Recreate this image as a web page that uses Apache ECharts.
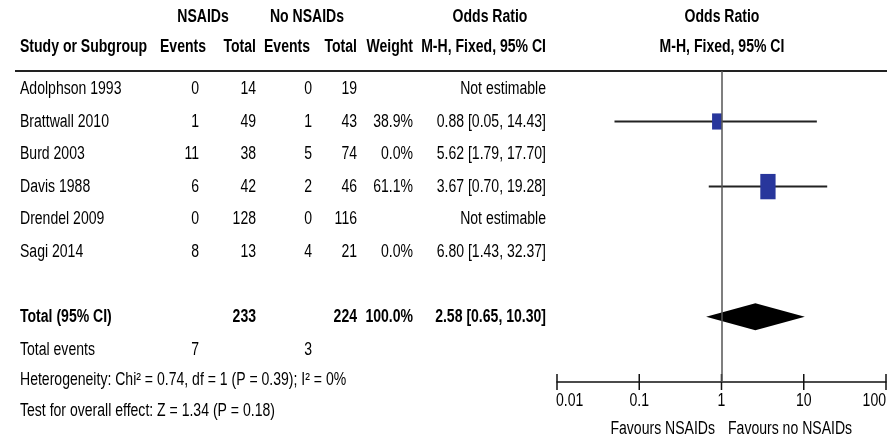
<!DOCTYPE html>
<html>
<head>
<meta charset="utf-8">
<script src="https://cdn.jsdelivr.net/npm/echarts@6/dist/echarts.min.js"></script>
<style>
html,body{margin:0;padding:0;background:#fff;}
#chart{width:887px;height:440px;}
</style>
</head>
<body>
<div id="chart"></div>
<script>
// ---------- DATA ----------
const studies = ['Adolphson 1993', 'Brattwall 2010', 'Burd 2003', 'Davis 1988', 'Drendel 2009', 'Sagi 2014'];
const nsaidEvents = [0, 1, 11, 6, 0, 8];
const nsaidTotal = [14, 49, 38, 42, 128, 13];
const noNsaidEvents = [0, 1, 5, 2, 0, 4];
const noNsaidTotal = [19, 43, 74, 46, 116, 21];
const weights = [null, 38.9, 0.0, 61.1, null, 0.0];
const oddsRatios = [null, 0.88, 5.62, 3.67, null, 6.80];
const ciLow = [null, 0.05, 1.79, 0.70, null, 1.43];
const ciHigh = [null, 14.43, 17.70, 19.28, null, 32.37];
const totalLabel = 'Total (95% CI)';
const totalNsaid = 233;
const totalNoNsaid = 224;
const totalWeight = 100.0;
const pooledOR = 2.58;
const pooledLow = 0.65;
const pooledHigh = 10.30;
const totalEventsNsaid = 7;
const totalEventsNoNsaid = 3;
const heterogeneityText = 'Heterogeneity: Chi\u00B2 = 0.74, df = 1 (P = 0.39); I\u00B2 = 0%';
const overallEffectText = 'Test for overall effect: Z = 1.34 (P = 0.18)';
const axisTickValues = [0.01, 0.1, 1, 10, 100];
const axisTickLabels = ['0.01', '0.1', '1', '10', '100'];
const favoursLeft = 'Favours NSAIDs';
const favoursRight = 'Favours no NSAIDs';

// ---------- LAYOUT / STYLE ----------
const FONT = '"Liberation Sans", Arial, sans-serif';
const FS = 18;
const SX = 0.78;           // horizontal condensing of text
const TXT = '#000';
const col = { study: 20, ev1: 199, tot1: 256, ev2: 312, tot2: 357, weight: 413, or: 546 };
const hdr = { ev1: 206, tot1: 256, ev2: 310, tot2: 357, weight: 413, or: 546 };
const rowPos = { head1: -2.2, head2: -1.3, total: 7, events: 8, het: 8.95, test: 9.88, favours: 10.44 };
const axisRow = 9;

const fmt2 = v => v.toFixed(2);
const orText = i => oddsRatios[i] == null ? 'Not estimable'
  : fmt2(oddsRatios[i]) + ' [' + fmt2(ciLow[i]) + ', ' + fmt2(ciHigh[i]) + ']';

const textItems = [];
function addText(x, row, text, align, bold) {
  textItems.push({ x: x, row: row, text: String(text), align: align, bold: !!bold });
}

studies.forEach((s, i) => {
  addText(col.study, i, s, 'left');
  addText(col.ev1, i, nsaidEvents[i], 'right');
  addText(col.tot1, i, nsaidTotal[i], 'right');
  addText(col.ev2, i, noNsaidEvents[i], 'right');
  addText(col.tot2, i, noNsaidTotal[i], 'right');
  if (weights[i] != null) addText(col.weight, i, weights[i].toFixed(1) + '%', 'right');
  addText(col.or, i, orText(i), 'right');
});
addText(col.study, rowPos.events, 'Total events', 'left');
addText(col.ev1, rowPos.events, totalEventsNsaid, 'right');
addText(col.ev2, rowPos.events, totalEventsNoNsaid, 'right');
addText(col.study, rowPos.het, heterogeneityText, 'left');
addText(col.study, rowPos.test, overallEffectText, 'left');
addText(715, rowPos.favours, favoursLeft, 'right');
addText(728, rowPos.favours, favoursRight, 'left');

addText(203, rowPos.head1, 'NSAIDs', 'center', true);
addText(307, rowPos.head1, 'No NSAIDs', 'center', true);
addText(490, rowPos.head1, 'Odds Ratio', 'center', true);
addText(722, rowPos.head1, 'Odds Ratio', 'center', true);
addText(col.study, rowPos.head2, 'Study or Subgroup', 'left', true);
addText(hdr.ev1, rowPos.head2, 'Events', 'right', true);
addText(hdr.tot1, rowPos.head2, 'Total', 'right', true);
addText(hdr.ev2, rowPos.head2, 'Events', 'right', true);
addText(hdr.tot2, rowPos.head2, 'Total', 'right', true);
addText(hdr.weight, rowPos.head2, 'Weight', 'right', true);
addText(hdr.or, rowPos.head2, 'M-H, Fixed, 95% CI', 'right', true);
addText(722, rowPos.head2, 'M-H, Fixed, 95% CI', 'center', true);
addText(col.study, rowPos.total, totalLabel, 'left', true);
addText(col.tot1, rowPos.total, totalNsaid, 'right', true);
addText(col.tot2, rowPos.total, totalNoNsaid, 'right', true);
addText(col.weight, rowPos.total, totalWeight.toFixed(1) + '%', 'right', true);
addText(col.or, rowPos.total, fmt2(pooledOR) + ' [' + fmt2(pooledLow) + ', ' + fmt2(pooledHigh) + ']', 'right', true);

function textEl(p, text, align, bold) {
  return {
    type: 'text', x: p[0], y: p[1], scaleX: SX,
    style: { text: text, x: 0, y: 0, align: align, verticalAlign: 'middle',
      font: (bold ? 'bold ' : '') + FS + 'px ' + FONT, fill: TXT }
  };
}

// studies with a positive weight are plotted
const studyData = [];
studies.forEach((s, i) => {
  if (oddsRatios[i] != null && weights[i] > 0) studyData.push([i, ciLow[i], ciHigh[i], oddsRatios[i], weights[i]]);
});

const chart = echarts.init(document.getElementById('chart'), null, { renderer: 'canvas' });

chart.setOption({
  animation: false,
  backgroundColor: '#fff',
  grid: [
    { left: 0, right: 0, top: 0, bottom: 0 },
    { left: 557, right: 1, top: 71, bottom: 58 }
  ],
  xAxis: [
    { gridIndex: 0, type: 'value', min: 0, max: 887, show: false },
    { gridIndex: 1, type: 'log', logBase: 10, min: axisTickValues[0], max: axisTickValues[axisTickValues.length - 1],
      position: 'bottom',
      axisLine: { show: true, onZero: false, lineStyle: { color: '#111', width: 1.5 } },
      axisTick: { show: false }, axisLabel: { show: false },
      splitLine: { show: false }, minorTick: { show: false } }
  ],
  yAxis: [
    { gridIndex: 0, type: 'value', inverse: true, min: -2.733, max: 10.777, show: false },
    { gridIndex: 1, type: 'value', inverse: true, min: -0.55, max: axisRow, show: false }
  ],
  series: [
    {
      // table text
      type: 'custom', xAxisIndex: 0, yAxisIndex: 0, silent: true,
      data: textItems.map(t => [t.x, t.row]),
      renderItem: function (params, api) {
        const t = textItems[params.dataIndex];
        const p = api.coord([api.value(0), api.value(1)]);
        return textEl(p, t.text, t.align, t.bold);
      },
      markLine: {
        silent: true, symbol: 'none', animation: false,
        label: { show: false },
        lineStyle: { color: '#222', width: 2, type: 'solid' },
        data: [[{ coord: [15, -0.55] }, { coord: [887, -0.55] }]]
      },
      z: 5
    },
    {
      // axis ticks and tick labels
      type: 'custom', xAxisIndex: 1, yAxisIndex: 1, silent: true,
      data: axisTickValues.map(v => [v, axisRow]),
      encode: { x: 0, y: 1 },
      clip: false,
      renderItem: function (params, api) {
        const p = api.coord([api.value(0), api.value(1)]);
        const i = params.dataIndex;
        const align = i === 0 ? 'left' : (i === axisTickValues.length - 1 ? 'right' : 'center');
        return {
          type: 'group', children: [
            { type: 'line', shape: { x1: p[0], y1: p[1] - 8, x2: p[0], y2: p[1] + 8 },
              style: { stroke: '#111', lineWidth: 1.5 } },
            textEl([p[0] - (i === 0 ? 1 : 0), p[1] + 19], axisTickLabels[i], align, false)
          ]
        };
      },
      z: 4
    },
    {
      type: 'custom', xAxisIndex: 1, yAxisIndex: 1, silent: true,
      data: studyData,
      encode: { x: [1, 2, 3], y: 0 },
      renderItem: function (params, api) {
        const row = api.value(0);
        const p1 = api.coord([api.value(1), row]);
        const p2 = api.coord([api.value(2), row]);
        const pc = api.coord([api.value(3), row]);
        const w = api.value(4);
        const bw = w * 0.25, bh = w * 0.415;
        return { type: 'group', children: [
          { type: 'line', shape: { x1: p1[0], y1: p1[1], x2: p2[0], y2: p2[1] },
            style: { stroke: '#222', lineWidth: 2 } },
          { type: 'rect', shape: { x: pc[0] - bw / 2, y: pc[1] - bh / 2, width: bw, height: bh },
            style: { fill: '#28369c' } }
        ] };
      },
      z: 4
    },
    {
      type: 'custom', xAxisIndex: 1, yAxisIndex: 1, silent: true,
      data: [[rowPos.total, pooledLow, pooledHigh, pooledOR]],
      encode: { x: [1, 2, 3], y: 0 },
      renderItem: function (params, api) {
        const row = api.value(0);
        const pl = api.coord([api.value(1), row]);
        const ph = api.coord([api.value(2), row]);
        const pc = api.coord([api.value(3), row]);
        const h = 13.5;
        return {
          type: 'polygon',
          shape: { points: [[pl[0], pl[1]], [pc[0], pc[1] - h], [ph[0], ph[1]], [pc[0], pc[1] + h]] },
          style: { fill: '#000' }
        };
      },
      markLine: {
        silent: true, symbol: 'none', animation: false,
        label: { show: false },
        lineStyle: { color: '#555', width: 1.5, type: 'solid' },
        data: [{ xAxis: 1 }]
      },
      z: 4
    }
  ]
});
</script>
</body>
</html>
